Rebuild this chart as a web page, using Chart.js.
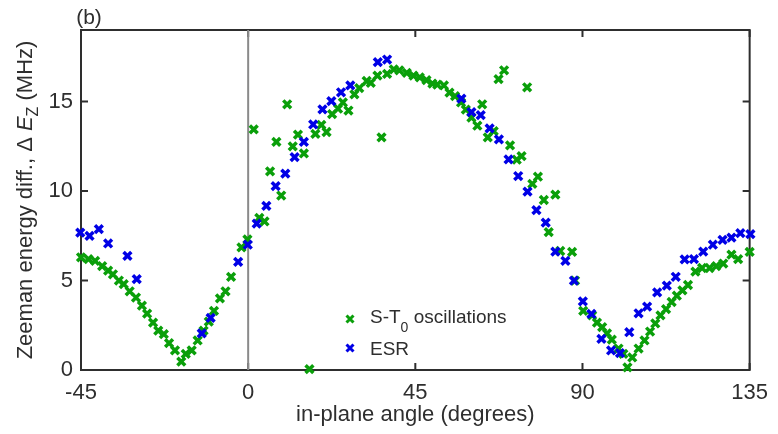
<!DOCTYPE html>
<html lang="en">
<head>
    <meta charset="UTF-8">
    <title>Zeeman energy difference vs in-plane angle</title>
    <script src="https://cdn.jsdelivr.net/npm/chart.js"></script>
    <style>
        body { margin: 0; background: #fff; }
        canvas { display: block; }
    </style>
</head>
<body>
    <canvas id="zeeman" width="778" height="434"></canvas>
    <script>
        // S-T0 oscillation data (angle in degrees, dEz in MHz)
        const stAngle = [-45.0, -43.0, -41.2, -39.3, -37.7, -36.4, -34.8, -33.5, -31.9, -30.2,
            -28.6, -27.2, -25.6, -24.2, -22.7, -21.3, -19.7, -18.0, -16.8, -15.2,
            -13.6, -12.0, -10.6, -9.2, -7.6, -6.1, -4.6, -1.8, -0.2, 1.5,
            3.0, 4.4, 5.9, 7.6, 8.9, 10.5, 12.0, 13.4, 15.0, 16.5,
            18.1, 19.7, 21.1, 22.6, 24.2, 25.5, 27.0, 28.6, 29.9, 31.9,
            33.0, 34.8, 35.9, 37.4, 39.2, 40.7, 42.7, 44.5, 46.2, 48.0,
            49.6, 50.9, 52.7, 54.2, 55.7, 57.3, 58.6, 60.1, 61.7, 63.0,
            64.5, 66.1, 67.4, 68.9, 70.5, 72.3, 73.6, 75.1, 76.5, 78.0,
            79.6, 80.9, 82.7, 84.0, 87.2, 88.0, 90.2, 92.6, 93.9, 95.3,
            96.6, 97.9, 99.7, 101.0, 102.1, 103.4, 105.1, 106.7, 108.2, 109.6,
            111.0, 112.5, 114.0, 115.4, 116.9, 118.4, 120.4, 122.2, 124.2, 126.0,
            127.9, 130.1, 131.9, 135.0];
        const stShift = [6.3, 6.2, 6.1, 5.8, 5.55, 5.35, 5.0, 4.8, 4.4, 4.05,
            3.6, 3.15, 2.65, 2.2, 2.0, 1.5, 1.1, 0.47, 0.9, 1.1,
            1.65, 2.2, 2.7, 3.3, 4.0, 4.4, 5.2, 6.85, 7.3, 13.45,
            8.5, 8.3, 11.1, 12.75, 9.75, 14.85, 12.5, 13.15, 12.1, 0.05,
            13.2, 13.7, 13.3, 14.3, 14.6, 14.95, 14.5, 15.4, 15.75, 16.15,
            16.05, 16.45, 13.0, 16.55, 16.8, 16.75, 16.6, 16.45, 16.35, 16.2,
            16.0, 15.95, 15.9, 15.5, 15.3, 14.95, 14.55, 14.1, 13.65, 14.85,
            13.0, 13.35, 16.25, 16.75, 12.55, 11.75, 11.95, 15.8, 10.4, 10.8,
            9.5, 7.7, 9.8, 6.65, 6.6, 5.0, 3.3, 3.05, 2.65, 2.4,
            2.05, 1.7, 1.2, 0.9, 0.15, 0.7, 1.2, 1.65, 2.15, 2.6,
            3.05, 3.4, 3.8, 4.15, 4.45, 4.75, 5.5, 5.7, 5.7, 5.8,
            5.95, 6.45, 6.2, 6.6];

        // ESR data
        const esrAngle = [-45.2, -42.7, -40.2, -37.7, -32.5, -30.0, -12.5, -10.1, -2.7, -0.1,
            2.3, 4.9, 7.4, 10.0, 12.5, 15.0, 17.5, 20.0, 22.4, 25.0,
            27.5, 34.9, 37.4, 57.4, 60.1, 62.6, 65.0, 67.5, 70.1, 72.7,
            75.2, 77.6, 80.1, 82.7, 85.4, 87.7, 90.1, 92.4, 95.1, 97.7,
            100.1, 102.6, 105.1, 107.4, 110.1, 112.7, 115.1, 117.5, 120.0, 122.5,
            125.1, 127.7, 130.1, 132.5, 135.2];
        const esrShift = [7.68, 7.5, 7.87, 7.07, 6.38, 5.08, 2.05, 2.91, 6.04, 7.0,
            8.18, 9.17, 10.28, 10.97, 11.9, 12.75, 13.72, 14.56, 15.02, 15.52,
            15.91, 17.21, 17.35, 15.17, 14.41, 14.24, 13.5, 12.89, 11.77, 10.84,
            9.97, 8.93, 8.24, 6.62, 6.1, 4.99, 3.84, 3.13, 1.74, 1.09,
            0.94, 2.11, 3.17, 3.54, 4.34, 4.71, 5.21, 6.18, 6.2, 6.61,
            7.0, 7.27, 7.4, 7.65, 7.59];

        const xTicks = [-45, 0, 45, 90, 135];
        const yTicks = [0, 5, 10, 15];

        const GREEN = '#0a9f0a';
        const BLUE = '#0000e6';
        const INK = '#2e2e2e';
        const FONT = "'Liberation Sans', Arial, sans-serif";

        function toPoints(xs, ys) {
            return xs.map((x, i) => ({ x: x, y: ys[i] }));
        }

        // box with inward ticks on all four sides
        const frame = {
            id: 'frame',
            beforeDatasetsDraw(chart) {
                const { ctx, chartArea: a, scales: { x, y } } = chart;
                ctx.save();
                ctx.strokeStyle = INK;
                ctx.lineWidth = 2;
                ctx.strokeRect(a.left, a.top, a.right - a.left, a.bottom - a.top);
                ctx.beginPath();
                xTicks.forEach(v => {
                    const px = x.getPixelForValue(v);
                    ctx.moveTo(px, a.bottom); ctx.lineTo(px, a.bottom - 7);
                    ctx.moveTo(px, a.top); ctx.lineTo(px, a.top + 7);
                });
                yTicks.forEach(v => {
                    const py = y.getPixelForValue(v);
                    ctx.moveTo(a.left, py); ctx.lineTo(a.left + 7, py);
                    ctx.moveTo(a.right, py); ctx.lineTo(a.right - 7, py);
                });
                ctx.stroke();
                ctx.restore();
            },
            afterDraw(chart) {
                const ctx = chart.ctx;
                ctx.save();
                ctx.fillStyle = INK;

                // panel label
                ctx.font = '21px ' + FONT;
                ctx.textAlign = 'center';
                ctx.textBaseline = 'middle';
                ctx.fillText('(b)', 89, 18);

                // y axis title with italic E and subscript Z
                ctx.textAlign = 'left';
                ctx.textBaseline = 'alphabetic';
                const parts = [
                    { t: 'Zeeman energy diff., \u0394 ', f: '22px ' + FONT, dy: 0 },
                    { t: 'E', f: 'italic 22px ' + FONT, dy: 0 },
                    { t: 'Z', f: '16px ' + FONT, dy: 6 },
                    { t: ' (MHz)', f: '22px ' + FONT, dy: 0 }
                ];
                let total = 0;
                parts.forEach(p => { ctx.font = p.f; p.w = ctx.measureText(p.t).width; total += p.w; });
                ctx.translate(32, 200);
                ctx.rotate(-Math.PI / 2);
                let cx = -total / 2;
                parts.forEach(p => { ctx.font = p.f; ctx.fillText(p.t, cx, p.dy); cx += p.w; });
                ctx.setTransform(1, 0, 0, 1, 0, 0);

                // legend
                const marks = [
                    { c: GREEN, y: 319, base: 323, label: [['S-T', 0], ['0', 8.5], [' oscillations', 0]] },
                    { c: BLUE, y: 348, base: 355, label: [['ESR', 0]] }
                ];
                marks.forEach(m => {
                    ctx.strokeStyle = m.c;
                    ctx.lineWidth = 3;
                    ctx.beginPath();
                    ctx.moveTo(346.5, m.y - 3.5); ctx.lineTo(353.5, m.y + 3.5);
                    ctx.moveTo(346.5, m.y + 3.5); ctx.lineTo(353.5, m.y - 3.5);
                    ctx.stroke();
                    let lx = 370;
                    m.label.forEach(([t, dy]) => {
                        ctx.font = (dy ? '14px ' : '19px ') + FONT;
                        ctx.fillText(t, lx, m.base + dy);
                        lx += ctx.measureText(t).width;
                    });
                });
                ctx.restore();
            }
        };

        new Chart(document.getElementById('zeeman'), {
            type: 'scatter',
            data: {
                datasets: [
                    {
                        label: 'ESR',
                        data: toPoints(esrAngle, esrShift),
                        pointStyle: 'crossRot',
                        radius: 5.5,
                        borderWidth: 3.5,
                        borderColor: BLUE,
                        backgroundColor: BLUE,
                        clip: false,
                        order: 0
                    },
                    {
                        label: 'S-T0 oscillations',
                        data: toPoints(stAngle, stShift),
                        pointStyle: 'crossRot',
                        radius: 5.5,
                        borderWidth: 3.5,
                        borderColor: GREEN,
                        backgroundColor: GREEN,
                        clip: false,
                        order: 1
                    },
                    {
                        // zero-angle marker line
                        type: 'line',
                        label: 'zero',
                        data: [{ x: 0, y: 0 }, { x: 0, y: 19 }],
                        borderColor: '#8a8a8a',
                        borderWidth: 2,
                        pointRadius: 0,
                        order: 2
                    }
                ]
            },
            options: {
                responsive: false,
                animation: false,
                devicePixelRatio: 1,
                layout: { padding: { top: 30, right: 18, left: 0, bottom: 0 } },
                plugins: {
                    legend: { display: false },
                    tooltip: { enabled: false }
                },
                scales: {
                    x: {
                        type: 'linear',
                        min: -45,
                        max: 135,
                        afterBuildTicks: s => { s.ticks = xTicks.map(v => ({ value: v })); },
                        afterFit: s => { s.height = 64; },
                        grid: { display: false, drawTicks: false },
                        border: { display: false },
                        ticks: { color: INK, font: { family: FONT, size: 22 }, padding: 10, maxRotation: 0 },
                        title: {
                            display: true,
                            text: 'in-plane angle (degrees)',
                            color: INK,
                            font: { family: FONT, size: 22 },
                            padding: { top: 0, bottom: 6 }
                        }
                    },
                    y: {
                        min: 0,
                        max: 19,
                        afterBuildTicks: s => { s.ticks = yTicks.map(v => ({ value: v })); },
                        afterFit: s => { s.width = 81; },
                        grid: { display: false, drawTicks: false },
                        border: { display: false },
                        ticks: { color: INK, font: { family: FONT, size: 22 }, padding: 8 }
                    }
                }
            },
            plugins: [frame]
        });
    </script>
</body>
</html>
